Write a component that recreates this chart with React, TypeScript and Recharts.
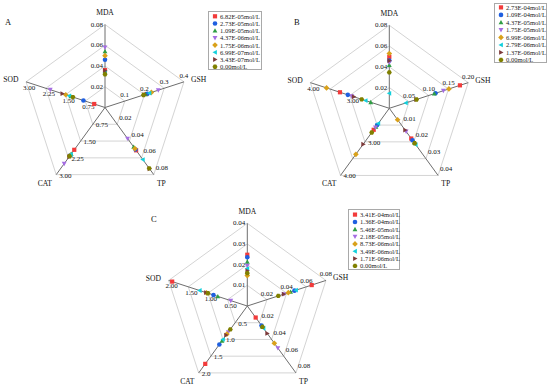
import React from 'react';
import { RadarChart, Radar, PolarGrid, PolarAngleAxis, PolarRadiusAxis, Legend } from 'recharts';

const axes = ['MDA', 'GSH', 'TP', 'CAT', 'SOD'];
const colors = ['#f23b3b', '#1f5fe0', '#2f9e44', '#a56de2', '#d9a11a', '#12d0dc', '#7d3a3a', '#808000'];
const shapes = ['square', 'circle', 'triangle', 'triangleDown', 'diamond', 'triangleLeft', 'triangleRight', 'hexagon'];

// Panel A
const concA = ['6.82E-05mol/L', '2.73E-05mol/L', '1.09E-05mol/L', '4.37E-06mol/L', '1.75E-06mol/L', '6.99E-07mol/L', '3.43E-07mol/L', '0.00mol/L'];
const mdaA = [0.036, 0.046, 0.054, 0.058, 0.05, 0.034, 0.0355, 0.032];
const gshA = [0.21, 0.215, 0.205, 0.27, 0.235, 0.225, 0.2, 0.195];
const tpA = [0.051, 0.05, 0.047, 0.037, 0.049, 0.062, 0.073, 0.0725];
const catA = [1.89, 2.12, 2.08, 2.51, 2.15, 2.1, 2.2, 2.18];
const sodA = [0.41, 0.82, 1.3, 2.08, 1.49, 1.36, 1.62, 1.22];
const rangeA = [[0, 0.08], [0, 0.4], [0, 0.08], [0, 3], [0, 3]];
const ticksA = [
  ['0.02', '0.04', '0.06', '0.08'],
  ['0.1', '0.2', '0.3', '0.4'],
  ['0.02', '0.04', '0.06', '0.08'],
  ['0.75', '1.50', '2.25', '3.00'],
  ['0.75', '1.50', '2.25', '3.00'],
];

// Panel B
const concB = ['2.73E-04mol/L', '1.09E-04mol/L', '4.37E-05mol/L', '1.75E-05mol/L', '6.99E-06mol/L', '2.79E-06mol/L', '1.37E-06mol/L', '0.00mol/L'];
const mdaB = [0.0496, 0.046, 0.0416, 0.0442, 0.0528, 0.0144, 0.0458, 0.0346];
const gshB = [0.179, 0.117, 0.114, 0.137, 0.151, 0.042, 0.068, 0.069];
const tpB = [0.018, 0.019, 0.0205, 0.0138, 0.0068, 0.0216, 0.013, 0.0208];
const catB = [2.64, 2.5, 2.55, 2.57, 3.37, 2.45, 3.07, 2.72];
const sodB = [3.25, 3.05, 2.47, 2.95, 3.59, 2.6, 2.9, 2.7];
const rangeB = [[0, 0.08], [0, 0.2], [0, 0.04], [2, 4], [2, 4]];
const ticksB = [
  ['0.02', '0.04', '0.06', '0.08'],
  ['0.05', '0.10', '0.15', '0.20'],
  ['0.01', '0.02', '0.03', '0.04'],
  ['', '3.00', '', '4.00'],
  ['', '3.00', '', '4.00'],
];

// Panel C
const concC = ['3.41E-04mol/L', '1.36E-04mol/L', '5.46E-05mol/L', '2.18E-05mol/L', '8.73E-06mol/L', '3.49E-06mol/L', '1.71E-06mol/L', '0.00mol/L'];
const mdaC = [0.0248, 0.0236, 0.0214, 0.0195, 0.0147, 0.0181, 0.017, 0.0159];
const gshC = [0.0655, 0.048, 0.044, 0.0373, 0.0417, 0.0495, 0.037, 0.0315];
const tpC = [0.0138, 0.0234, 0.0245, 0.0503, 0.0445, 0.0266, 0.0328, 0.025];
const catC = [1.73, 1.15, 1.04, 0.78, 0.84, 1.0, 0.87, 0.7];
const sodC = [1.91, 0.86, 0.75, 0.42, 1.04, 1.21, 1.05, 1.0];
const rangeC = [[0, 0.04], [0, 0.08], [0, 0.08], [0, 2], [0, 2]];
const ticksC = [
  ['0.01', '0.02', '0.03', '0.04'],
  ['0.02', '0.04', '0.06', '0.08'],
  ['0.02', '0.04', '0.06', '0.08'],
  ['0.5', '1.0', '1.5', '2.0'],
  ['0.50', '1.00', '1.50', '2.00'],
];

const FONT = '"Liberation Serif", "Times New Roman", serif';
const RAD = Math.PI / 180;

// each axis has its own scale, so values are mapped to 0..1 of the radius
const buildRows = (values: number[][], ranges: number[][]) =>
  axes.map((name, k) => {
    const row: any = { axis: name };
    values[k].forEach((v, i) => {
      row[`s${i}`] = (v - ranges[k][0]) / (ranges[k][1] - ranges[k][0]);
    });
    return row;
  });

const Marker = ({ shape, cx, cy, fill }: any) => {
  const s = 2.1;
  const pts = (arr: number[][]) => arr.map(p => `${cx + p[0] * s},${cy + p[1] * s}`).join(' ');
  switch (shape) {
    case 'square':
      return <rect x={cx - s} y={cy - s} width={s * 2} height={s * 2} fill={fill} />;
    case 'circle':
      return <circle cx={cx} cy={cy} r={s + 0.2} fill={fill} />;
    case 'triangle':
      return <polygon points={pts([[0, -1.2], [1.15, 0.9], [-1.15, 0.9]])} fill={fill} />;
    case 'triangleDown':
      return <polygon points={pts([[0, 1.2], [1.15, -0.9], [-1.15, -0.9]])} fill={fill} />;
    case 'diamond':
      return <polygon points={pts([[0, -1.35], [1.35, 0], [0, 1.35], [-1.35, 0]])} fill={fill} />;
    case 'triangleLeft':
      return <polygon points={pts([[-1.2, 0], [0.9, -1.15], [0.9, 1.15]])} fill={fill} />;
    case 'triangleRight':
      return <polygon points={pts([[1.2, 0], [-0.9, -1.15], [-0.9, 1.15]])} fill={fill} />;
    default:
      return (
        <polygon
          points={pts([0, 1, 2, 3, 4, 5].map(j => [1.2 * Math.cos((Math.PI / 3) * j), 1.2 * Math.sin((Math.PI / 3) * j)]))}
          fill={fill}
        />
      );
  }
};

// direction of every spoke (clockwise from the top) and label offsets from the ring point
const spokeAngles = [90, 18, -54, -126, 162];
const tickPlace = [
  { anchor: 'end', dx: -2, dy: 0 },
  { anchor: 'middle', dx: 0, dy: -6 },
  { anchor: 'start', dx: 2, dy: -6.5 },
  { anchor: 'start', dx: 3, dy: 1 },
  { anchor: 'middle', dx: 3, dy: 6 },
];

// offsets of the axis names relative to Recharts' angle tick point
const namePlace = [
  { anchor: 'middle', dx: 0, dy: -4 },
  { anchor: 'start', dx: -0.5, dy: 0 },
  { anchor: 'start', dx: -1.5, dy: 2 },
  { anchor: 'end', dx: 0.5, dy: 2 },
  { anchor: 'end', dx: 0, dy: 0.5 },
];

const LegendBox = ({ conc, w, h, first, step, tx }: any) => (
  <div style={{ width: w, height: h, border: '1px solid #a9a9a9', boxSizing: 'border-box', background: '#fff' }}>
    <svg width={w - 2} height={h - 2} style={{ display: 'block', overflow: 'visible' }}>
      {conc.map((c: string, i: number) => (
        <g key={c}>
          <Marker shape={shapes[i]} cx={6} cy={first + i * step} fill={colors[i]} />
          <text x={tx} y={first + i * step} fontSize={6.5} fontFamily={FONT} fill="#222" dominantBaseline="central">
            {c}
          </text>
        </g>
      ))}
    </svg>
  </div>
);

const Panel = ({ left, top, width, height, cx, cy, r, conc, values, ranges, tickLabels, legend }: any) => {
  const rows = buildRows(values, ranges);
  const renderTicks = (p: any) => {
    const v = p.payload.value;
    const rad = p.payload.coordinate ?? v * r;
    const idx = Math.round(v * 4) - 1;
    return (
      <g key={`t-${p.index}`}>
        {spokeAngles.map((a, k) => {
          const label = tickLabels[k][idx];
          if (!label) return null;
          const pl = tickPlace[k];
          return (
            <text
              key={k}
              x={cx + rad * Math.cos(a * RAD) + pl.dx}
              y={cy - rad * Math.sin(a * RAD) + pl.dy}
              textAnchor={pl.anchor}
              dominantBaseline="central"
              fontSize={7}
              fontFamily={FONT}
              fill="#111"
            >
              {label}
            </text>
          );
        })}
      </g>
    );
  };
  return (
    <div style={{ position: 'absolute', left, top }}>
      <RadarChart
        width={width}
        height={height}
        data={rows}
        cx={cx}
        cy={cy}
        outerRadius={r}
        margin={{ top: 0, right: 0, bottom: 0, left: 0 }}
      >
        <PolarGrid gridType="polygon" radialLines={false} stroke="#d4d4d4" polarRadius={[r / 4, r / 2, (3 * r) / 4, r]} />
        <PolarGrid gridType="polygon" radialLines stroke="#6e6e6e" polarRadius={[]} />
        <PolarAngleAxis
          dataKey="axis"
          axisLine={false}
          tickLine={false}
          tick={(p: any) => {
            const pl = namePlace[p.index];
            return (
              <text
                key={`n-${p.index}`}
                x={p.x + pl.dx}
                y={p.y + pl.dy}
                textAnchor={pl.anchor}
                dominantBaseline="central"
                fontSize={7.6}
                fontFamily={FONT}
                fill="#111"
              >
                {p.payload.value}
              </text>
            );
          }}
        />
        <PolarRadiusAxis
          type="number"
          domain={[0, 1]}
          ticks={[0.25, 0.5, 0.75, 1]}
          axisLine={false}
          tickLine={false}
          tick={renderTicks}
        />
        {conc.map((c: string, i: number) => (
          <Radar
            key={c}
            name={c}
            dataKey={`s${i}`}
            stroke="none"
            fill="none"
            fillOpacity={0}
            isAnimationActive={false}
            dot={(p: any) => <Marker key={`d-${i}-${p.index}`} shape={shapes[i]} cx={p.cx} cy={p.cy} fill={colors[i]} />}
          />
        ))}
        <Legend
          layout="vertical"
          align="center"
          verticalAlign="middle"
          wrapperStyle={{ left: legend.x, top: legend.y, width: legend.w, height: legend.h }}
          content={() => (
            <LegendBox conc={conc} w={legend.w} h={legend.h} first={legend.first} step={legend.step} tx={legend.tx} />
          )}
        />
      </RadarChart>
    </div>
  );
};

const letterStyle: any = { position: 'absolute', fontFamily: FONT, fontSize: 8.5, lineHeight: '10px', color: '#111' };

export default function App() {
  return (
    <div style={{ position: 'fixed', left: 0, top: 0, width: 550, height: 392, background: '#fff', overflow: 'hidden' }}>
      <Panel
        left={0}
        top={0}
        width={275}
        height={200}
        cx={105}
        cy={107.5}
        r={83}
        conc={concA}
        values={[mdaA, gshA, tpA, catA, sodA]}
        ranges={rangeA}
        tickLabels={ticksA}
        legend={{ x: 208, y: 10.7, w: 54, h: 59.5, first: 4.3, step: 7.2, tx: 11 }}
      />
      <Panel
        left={280}
        top={0}
        width={270}
        height={200}
        cx={109.3}
        cy={108.3}
        r={83}
        conc={concB}
        values={[mdaB, gshB, tpB, catB, sodB]}
        ranges={rangeB}
        tickLabels={ticksB}
        legend={{ x: 214, y: 3.3, w: 53, h: 60, first: 3.4, step: 7.5, tx: 11 }}
      />
      <Panel
        left={140}
        top={200}
        width={270}
        height={192}
        cx={107.3}
        cy={106}
        r={82.7}
        conc={concC}
        values={[mdaC, gshC, tpC, catC, sodC]}
        ranges={rangeC}
        tickLabels={ticksC}
        legend={{ x: 207.7, y: 9.3, w: 52.3, h: 60.7, first: 4.6, step: 7.33, tx: 11 }}
      />
      <div style={{ ...letterStyle, left: 5, top: 17 }}>A</div>
      <div style={{ ...letterStyle, left: 294, top: 17 }}>B</div>
      <div style={{ ...letterStyle, left: 151, top: 214 }}>C</div>
    </div>
  );
}
